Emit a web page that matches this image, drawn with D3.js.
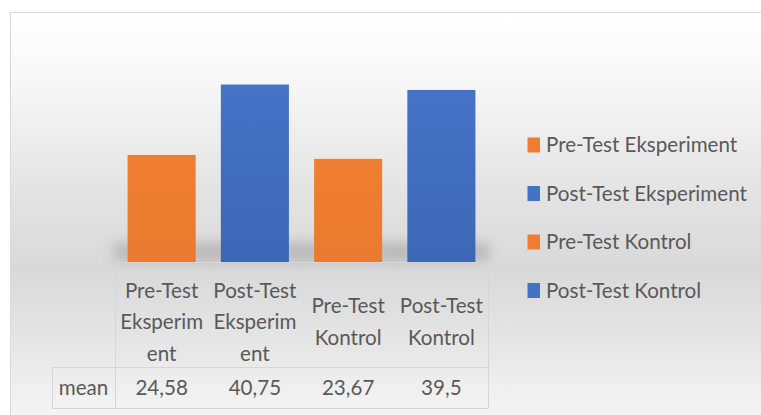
<!DOCTYPE html>
<html>
<head>
<meta charset="utf-8">
<script src="https://cdn.jsdelivr.net/npm/d3@7"></script>
<style>
html,body{margin:0;padding:0;background:#fff;}
svg{display:block;}
text{font-family:Lato, "Open Sans", sans-serif; fill:#595959;}
</style>
</head>
<body>
<svg id="chart" width="761" height="415"></svg>
<script>
// ---- data ----
const categories = ["Pre-Test Eksperiment", "Post-Test Eksperiment", "Pre-Test Kontrol", "Post-Test Kontrol"];
const categoryLines = [["Pre-Test", "Eksperim", "ent"], ["Post-Test", "Eksperim", "ent"], ["Pre-Test", "Kontrol"], ["Post-Test", "Kontrol"]];
const meanValues = [24.58, 40.75, 23.67, 39.5];
const meanLabels = ["24,58", "40,75", "23,67", "39,5"];
const rowLabel = "mean";
const barColors = ["#ED7D31", "#4472C4", "#ED7D31", "#4472C4"];

// ---- layout ----
const svg = d3.select("#chart");
const W = 761, H = 415;
const tableLeft = 52, colLeft = 115, colRight = 488;
const baseY = 262, rowTop = 367, rowBottom = 408;

const defs = svg.append("defs");
const bg = defs.append("linearGradient").attr("id", "bgGrad")
  .attr("x1", 0).attr("y1", 0).attr("x2", 0).attr("y2", 1);
[[0, "#ffffff"], [0.18, "#f6f6f6"], [0.45, "#e2e2e2"], [0.62, "#d9d9d9"], [0.8, "#e6e6e6"], [1, "#f7f7f7"]]
  .forEach(([o, c]) => bg.append("stop").attr("offset", o).attr("stop-color", c));
const blueGrad = defs.append("linearGradient").attr("id", "blueGrad")
  .attr("x1", 0).attr("y1", 0).attr("x2", 0).attr("y2", 1);
blueGrad.append("stop").attr("offset", 0).attr("stop-color", "#4673c6");
blueGrad.append("stop").attr("offset", 1).attr("stop-color", "#3c67b6");
const orangeGrad = defs.append("linearGradient").attr("id", "orangeGrad")
  .attr("x1", 0).attr("y1", 0).attr("x2", 0).attr("y2", 1);
orangeGrad.append("stop").attr("offset", 0).attr("stop-color", "#ef7e31");
orangeGrad.append("stop").attr("offset", 1).attr("stop-color", "#ea7a2f");
const blur = defs.append("filter").attr("id", "blur")
  .attr("x", "-50%").attr("y", "-50%").attr("width", "200%").attr("height", "200%");
blur.append("feGaussianBlur").attr("stdDeviation", 6);

// background
svg.append("rect").attr("x", 10.5).attr("y", 12.5).attr("width", W).attr("height", H)
  .attr("fill", "url(#bgGrad)").attr("stroke", "#d9d9d9").attr("stroke-width", 1);

// scales
const x = d3.scaleBand().domain(categories).range([colLeft, colRight])
  .paddingInner(0.27).paddingOuter(0.135);
const y = d3.scaleLinear().domain([0, 45]).range([baseY, 66]);

// bar shadows
svg.append("g").selectAll("rect").data(categories).join("rect")
  .attr("x", d => x(d) - 14)
  .attr("width", x.bandwidth() + 28)
  .attr("y", baseY - 20)
  .attr("height", 20)
  .attr("fill", "#8a8a8a")
  .attr("opacity", 0.38)
  .attr("filter", "url(#blur)");

// bars
svg.append("g").selectAll("rect").data(categories).join("rect")
  .attr("x", d => x(d))
  .attr("width", x.bandwidth())
  .attr("y", (d, i) => y(meanValues[i]))
  .attr("height", (d, i) => y(0) - y(meanValues[i]))
  .attr("fill", (d, i) => barColors[i] === "#ED7D31" ? "url(#orangeGrad)" : "url(#blueGrad)");

// data table lines
const lineColor = "#d6d6d6";
const tg = svg.append("g").attr("stroke", lineColor).attr("stroke-width", 1).attr("fill", "none");
tg.append("line").attr("x1", colLeft).attr("x2", colRight).attr("y1", baseY + 0.5).attr("y2", baseY + 0.5);
tg.append("line").attr("x1", tableLeft).attr("x2", colRight).attr("y1", rowTop + 0.5).attr("y2", rowTop + 0.5);
tg.append("line").attr("x1", tableLeft).attr("x2", colRight).attr("y1", rowBottom + 0.5).attr("y2", rowBottom + 0.5);
tg.append("line").attr("x1", tableLeft + 0.5).attr("x2", tableLeft + 0.5).attr("y1", rowTop).attr("y2", rowBottom);
tg.append("line").attr("x1", colLeft + 0.5).attr("x2", colLeft + 0.5).attr("y1", baseY).attr("y2", rowBottom);
tg.append("line").attr("x1", colRight + 0.5).attr("x2", colRight + 0.5).attr("y1", baseY).attr("y2", rowBottom);

// category labels (x axis)
const fs = 20.6;
const lineH = 31.5;
const labelMid = 322;
const cl = svg.append("g").attr("text-anchor", "middle").style("font-size", fs + "px");
categories.forEach((c, i) => {
  const lines = categoryLines[i];
  const t = cl.append("text").attr("x", x(c) + x.bandwidth() / 2);
  lines.forEach((ln, j) => {
    t.append("tspan").attr("x", x(c) + x.bandwidth() / 2)
      .attr("y", labelMid + 7 + (j - (lines.length - 1) / 2) * lineH)
      .text(ln);
  });
});

// values row
svg.append("text").attr("x", (tableLeft + colLeft) / 2).attr("y", 395)
  .attr("text-anchor", "middle").style("font-size", fs + "px").text(rowLabel);
svg.append("g").selectAll("text").data(categories).join("text")
  .attr("x", d => x(d) + x.bandwidth() / 2)
  .attr("y", 395)
  .attr("text-anchor", "middle")
  .style("font-size", fs + "px")
  .text((d, i) => meanLabels[i]);

// legend
const legY0 = 145, legStep = 48.5;
const lg = svg.append("g").selectAll("g").data(categories).join("g")
  .attr("transform", (d, i) => `translate(527.5, ${legY0 + i * legStep})`);
lg.append("rect").attr("x", 0).attr("y", -7.5).attr("width", 12.5).attr("height", 15)
  .attr("fill", (d, i) => barColors[i]);
lg.append("text").attr("x", 18.5).attr("y", 7).style("font-size", fs + "px").text(d => d);
</script>
</body>
</html>
